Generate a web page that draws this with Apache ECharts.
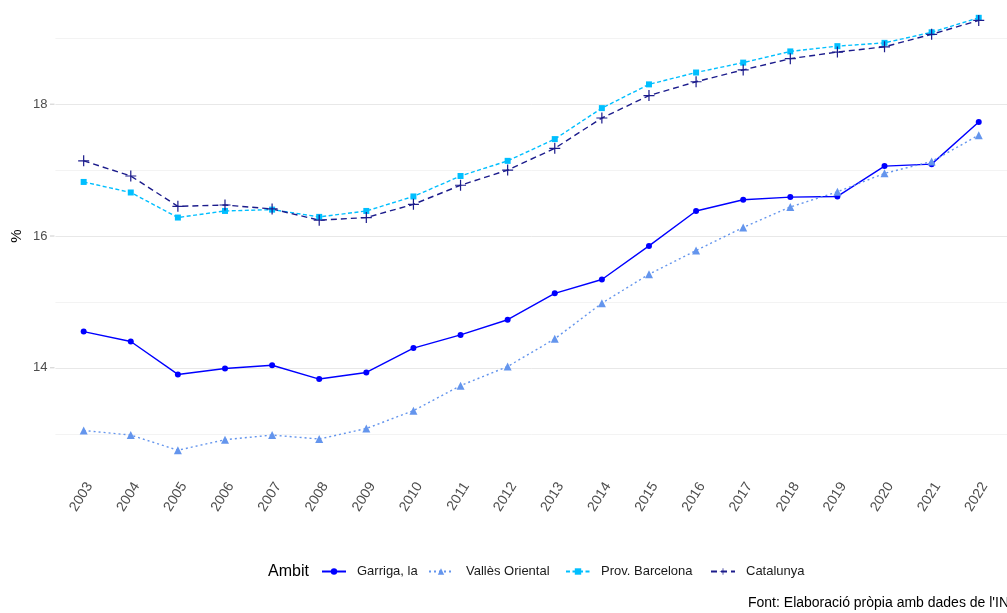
<!DOCTYPE html>
<html>
<head>
<meta charset="utf-8">
<script src="https://cdn.jsdelivr.net/npm/echarts@6/dist/echarts.min.js"></script>
<style>
html,body{margin:0;padding:0;background:#fff;}
#chart{width:1007px;height:613px;}
</style>
</head>
<body>
<div id="chart"></div>
<script>
const years = [2003,2004,2005,2006,2007,2008,2009,2010,2011,2012,2013,2014,2015,2016,2017,2018,2019,2020,2021,2022];
const garriga   = [14.55,14.40,13.90,13.99,14.04,13.83,13.93,14.30,14.50,14.73,15.13,15.34,15.85,16.38,16.55,16.59,16.60,17.06,17.09,17.73];
const valles    = [13.05,12.98,12.75,12.91,12.98,12.92,13.08,13.35,13.73,14.02,14.44,14.98,15.42,15.78,16.13,16.44,16.67,16.95,17.13,17.53];
const provBcn   = [16.82,16.66,16.28,16.38,16.40,16.29,16.38,16.60,16.91,17.14,17.47,17.94,18.30,18.48,18.63,18.80,18.88,18.93,19.09,19.31];
const catalunya = [17.14,16.91,16.45,16.47,16.41,16.24,16.28,16.48,16.77,17.00,17.33,17.79,18.13,18.34,18.52,18.69,18.79,18.87,19.06,19.27];
const yLabels = [14,16,18];
const yGrid = [13,14,15,16,17,18,19];
const seriesNames = ['Garriga, la','Vallès Oriental','Prov. Barcelona','Catalunya'];

const font = "'Liberation Sans', Arial, sans-serif";
const pair = arr => years.map((y,i)=>[y,arr[i]]);
const plusPath = 'path://M4.45,0h1.1v4.45h4.45v1.1h-4.45v4.45h-1.1v-4.45h-4.45v-1.1h4.45z';

const legendKeyLeft = [321, 428, 565, 710];
const legendTextPad = [6, 8, 6, 6];

const chart = echarts.init(document.getElementById('chart'));
chart.setOption({
  animation:false,
  backgroundColor:'#fff',
  grid:{left:55.4, right:-10.6, top:0, bottom:141, containLabel:false},
  xAxis:{
    type:'value', min:2002.4, max:2022.6,
    axisLine:{show:false}, axisTick:{show:false}, splitLine:{show:false},
    axisLabel:{customValues:years, rotate:58, margin:8, verticalAlign:'top', color:'#4d4d4d', fontSize:14, fontFamily:font,
      formatter:v=>String(v)}
  },
  yAxis:{
    type:'value', min:12.42, max:19.58,
    axisLine:{show:false},
    axisTick:{show:true, customValues:yGrid, length:0, lineStyle:{color:'#fff'}},
    axisLabel:{customValues:yLabels, margin:8, color:'#4d4d4d', fontSize:13, fontFamily:font},
    splitLine:{show:true, lineStyle:{color:['#f3f3f3','#e8e8e8'], width:1}}
  },
  legend: seriesNames.map((n,i)=>({
    data:[n], left:legendKeyLeft[i], top:565, orient:'horizontal',
    itemWidth:24, itemHeight:8, itemGap:0, padding:0,
    textStyle:{fontSize:13, color:'#1a1a1a', fontFamily:font, padding:[0,0,0,legendTextPad[i]]}
  })),
  graphic:[
    {type:'text', left:268, top:564, style:{text:'Ambit', fontSize:16, fill:'#000', fontFamily:font}},
    {type:'text', x:17, y:236, rotation:Math.PI/2, style:{text:'%', fontSize:15, fill:'#000', fontFamily:font, align:'center', verticalAlign:'middle'}},
    {type:'text', left:748, top:596, style:{text:"Font: Elaboració pròpia amb dades de l'INE", fontSize:14, fill:'#000', fontFamily:font}},
    {type:'line', shape:{x1:50,y1:104.2,x2:54.5,y2:104.2}, style:{stroke:'#cccccc', lineWidth:1}},
    {type:'line', shape:{x1:50,y1:236,x2:54.5,y2:236}, style:{stroke:'#cccccc', lineWidth:1}},
    {type:'line', shape:{x1:50,y1:367.8,x2:54.5,y2:367.8}, style:{stroke:'#cccccc', lineWidth:1}}
  ],
  series:[
    {name:seriesNames[0], type:'line', data:pair(garriga), color:'#0000FF',
      symbol:'circle', symbolSize:6, lineStyle:{width:1.4, type:'solid'}},
    {name:seriesNames[1], type:'line', data:pair(valles), color:'#6495ED',
      symbol:'triangle', symbolSize:8, lineStyle:{width:1.4, type:[2,3]}},
    {name:seriesNames[2], type:'line', data:pair(provBcn), color:'#00BFFF',
      symbol:'rect', symbolSize:6, lineStyle:{width:1.4, type:[4,2.5]}},
    {name:seriesNames[3], type:'line', data:pair(catalunya), color:'#1c1c8c',
      symbol:plusPath, symbolSize:11, lineStyle:{width:1.4, type:[6,4]}}
  ]
});
</script>
</body>
</html>
